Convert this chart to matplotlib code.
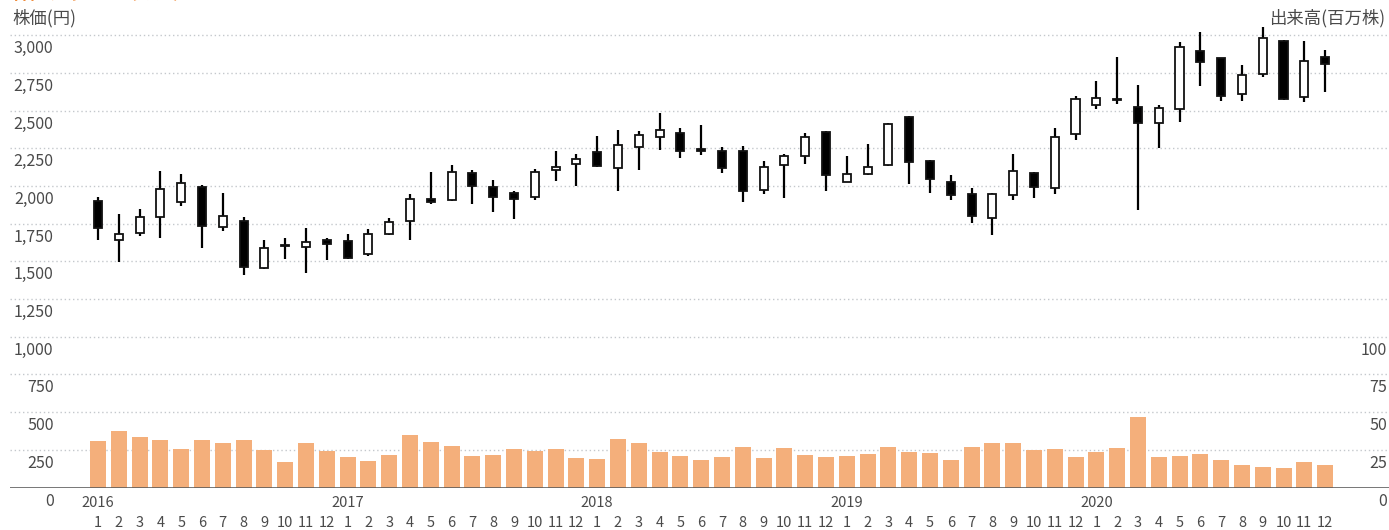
import matplotlib
matplotlib.use("Agg")
import matplotlib.pyplot as plt
from matplotlib.transforms import blended_transform_factory, ScaledTranslation

plt.rcParams['font.family'] = ['Noto Sans CJK JP', 'DejaVu Sans']

# ---- data (monthly, Jan 2016 - Dec 2020) ----
years = ['2016', '2017', '2018', '2019', '2020']
months = [str(m) for m in range(1, 13)] * 5

opens = [1903, 1645, 1689, 1794, 1897, 1996, 1728, 1770, 1458, 1600, 1596, 1645,
         1638, 1551, 1684, 1770, 1913, 1904, 2083, 1995, 1955, 1926, 2107, 2149,
         2224, 2121, 2260, 2326, 2352, 2246, 2229, 2231, 1971, 2140, 2200, 2357,
         2028, 2081, 2136, 2460, 2169, 2024, 1946, 1785, 1940, 2087, 1984, 2343,
         2539, 2575, 2521, 2418, 2508, 2897, 2848, 2611, 2741, 2960, 2587, 2857]
highs = [1925, 1814, 1846, 2099, 2079, 2009, 1954, 1792, 1640, 1658, 1719, 1656,
         1682, 1717, 1790, 1948, 2092, 2136, 2103, 2037, 1968, 2114, 2231, 2215,
         2332, 2374, 2365, 2482, 2383, 2403, 2257, 2264, 2167, 2213, 2352, 2363,
         2202, 2277, 2416, 2465, 2174, 2070, 1984, 1955, 2213, 2094, 2385, 2599,
         2695, 2855, 2670, 2534, 2954, 3024, 2850, 2802, 3057, 2967, 2963, 2903]
lows = [1645, 1496, 1671, 1653, 1864, 1586, 1702, 1408, 1447, 1518, 1421, 1509,
        1513, 1533, 1677, 1640, 1882, 1900, 1878, 1827, 1783, 1907, 2035, 2000,
        2127, 1970, 2107, 2237, 2187, 2204, 2083, 1893, 1948, 1918, 2143, 1966,
        2028, 2072, 2132, 2010, 1953, 1909, 1754, 1673, 1909, 1920, 1948, 2306,
        2510, 2545, 1844, 2251, 2427, 2666, 2563, 2561, 2723, 2572, 2556, 2620]
closes = [1719, 1682, 1794, 1982, 2017, 1732, 1800, 1465, 1586, 1606, 1629, 1614,
          1520, 1682, 1763, 1915, 1893, 2090, 2000, 1929, 1913, 2090, 2129, 2180,
          2132, 2273, 2337, 2374, 2229, 2233, 2116, 1968, 2129, 2196, 2328, 2076,
          2079, 2127, 2412, 2156, 2048, 1937, 1801, 1948, 2101, 1993, 2326, 2575,
          2585, 2570, 2418, 2517, 2919, 2824, 2594, 2739, 2982, 2578, 2831, 2811]
volumes = [31.0, 37.6, 33.6, 31.6, 25.7, 31.6, 29.6, 31.6, 25.0, 17.0, 29.6, 24.3,
           20.3, 17.7, 21.7, 35.0, 30.3, 27.7, 21.0, 21.7, 25.7, 24.3, 25.7, 19.7,
           19.0, 32.3, 29.6, 23.7, 21.0, 18.4, 20.3, 27.0, 19.7, 26.3, 21.7, 20.3,
           21.0, 22.3, 27.0, 23.7, 23.0, 18.4, 27.0, 29.6, 29.6, 25.0, 25.7, 20.3,
           23.7, 26.3, 46.9, 20.3, 21.0, 22.3, 18.4, 15.0, 13.7, 13.1, 17.0, 15.0]

price_grid = [250, 500, 750, 1000, 1250, 1500, 1750, 2000, 2250, 2500, 2750, 3000]
price_labels_vals = [0, 250, 500, 750, 1000, 1250, 1500, 1750, 2000, 2250, 2500, 2750, 3000]
vol_labels_vals = [0, 25, 50, 75, 100]

# ---- figure ----
W, H = 1389, 530
fig = plt.figure(figsize=(W / 100, H / 100), dpi=100)
ax = fig.add_axes([10 / W, 42.4 / H, 1379 / W, (509.9 - 42.4) / H])
ax2 = ax.twinx()

x = list(range(len(opens)))
ax.set_xlim(-4.23, 62.07)
ax.set_ylim(0, 3100)
ax2.set_ylim(0, 310)

for a in (ax, ax2):
    for s in a.spines.values():
        s.set_visible(False)

# grid
ax.set_yticks(price_grid)
ax.tick_params(axis='y', left=False, labelleft=False)
ax.grid(axis='y', linestyle=(0, (1, 2)), color='#c4c8cc', linewidth=1.0)
ax.set_axisbelow(True)
ax2.set_yticks([])

# volume bars
ax2.bar(x, volumes, width=0.77, color='#F4AF7B', zorder=2)
ax2.axhline(0, color='#5a5a5a', linewidth=2.0, alpha=0.9, zorder=3)

# candles
ax.vlines(x, lows, highs, color='black', linewidth=1.6, zorder=3)
bottoms = [min(o, c) for o, c in zip(opens, closes)]
heights = [max(abs(c - o), 8) for o, c in zip(opens, closes)]
colors = ['white' if c >= o else 'black' for o, c in zip(opens, closes)]
ax.bar(x, heights, bottom=bottoms, width=0.39, color=colors,
       edgecolor='#111111', linewidth=1.3, zorder=4)

# x tick labels (months)
ax.set_xticks(x)
ax.set_xticklabels(months)
ax.tick_params(axis='x', length=0, pad=20.5, labelsize=10.5, colors='#4a4a4a')

txtc = '#4a4a4a'
# year labels
ytr = blended_transform_factory(ax.transData, fig.transFigure)
for i, yr in enumerate(years):
    ax.text(i * 12, (530 - 503) / H, yr, transform=ytr, ha='center', va='center',
            fontsize=10.5, color=txtc)

# left labels (below gridlines)
off = ScaledTranslation(0, -13.5 / 100, fig.dpi_scale_trans)
ltr = blended_transform_factory(fig.transFigure, ax.transData) + off
for v in price_labels_vals:
    ax.text(53.5 / W, v, f'{v:,}', transform=ltr, ha='right', va='center',
            fontsize=11.5, color=txtc)
rtr = blended_transform_factory(fig.transFigure, ax2.transData) + off
for v in vol_labels_vals:
    ax2.text(1387 / W, v, f'{v}', transform=rtr, ha='right', va='center',
             fontsize=11.5, color=txtc)

# titles
fig.text(12 / W, (530 - 18) / H, '株価(円)', ha='left', va='center', fontsize=12.5, color=txtc)
fig.text(1385 / W, (530 - 18) / H, '出来高(百万株)', ha='right', va='center', fontsize=12.5, color=txtc)
fig.text(12 / W, (530 - 3) / H, '株価チャート（月足）', ha='left', va='bottom',
         fontsize=13, color='#F08C3C', fontweight='bold')

fig.savefig('out.png', dpi=100)
